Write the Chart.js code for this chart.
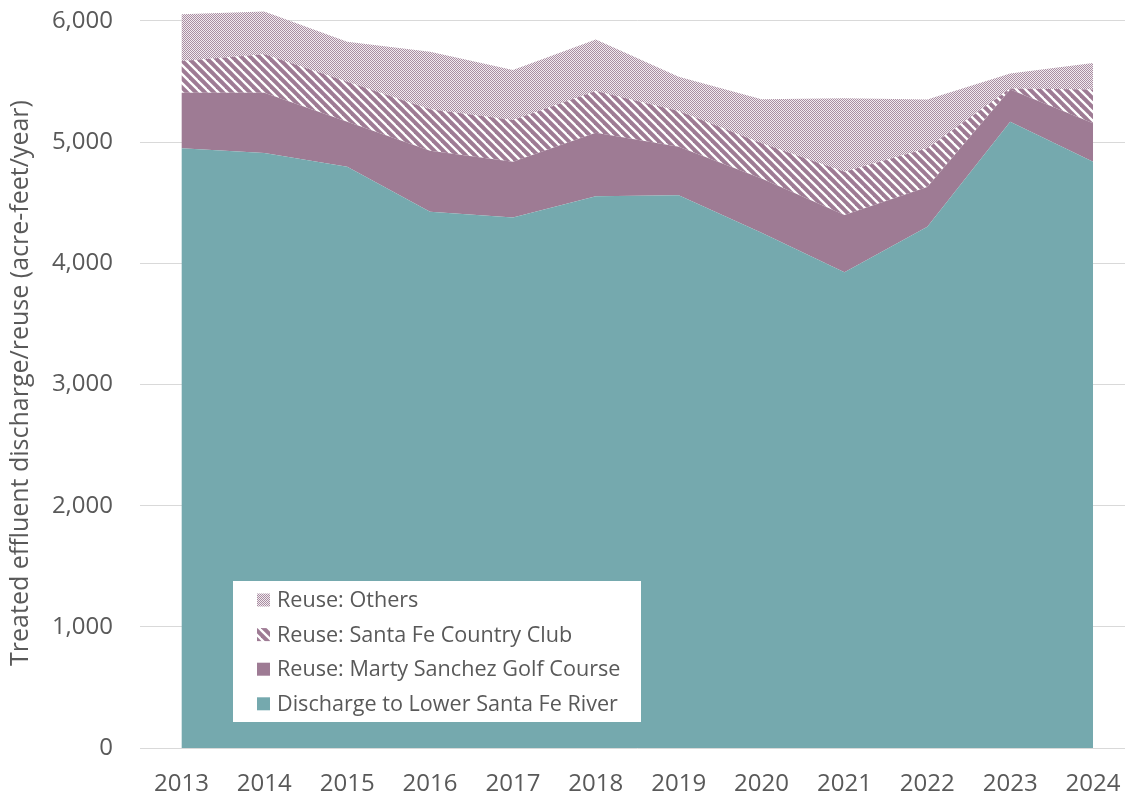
<!DOCTYPE html>
<html>
<head>
  <title>Treated Effluent Discharge and Reuse</title>
  <script src="https://cdn.jsdelivr.net/npm/chart.js"></script>
  <style>
    html, body {
      margin: 0;
      padding: 0;
      background: #fff;
      overflow: hidden;
    }
    .wrap {
      width: 1136px;
      height: 797px;
    }
  </style>
</head>
<body>
<div class="wrap">
  <canvas id="effluentChart" width="1136" height="797"></canvas>
</div>

<script>
  // values, acre-feet/year
  const years = ['2013', '2014', '2015', '2016', '2017', '2018', '2019', '2020', '2021', '2022', '2023', '2024'];
  const discharge = [4949, 4910, 4797, 4426, 4379, 4553, 4561, 4252, 3927, 4302, 5169, 4839];
  const martySanchez = [459, 498, 372, 502, 460, 525, 402, 449, 472, 328, 266, 316];
  const countryClub = [262, 317, 330, 344, 344, 344, 295, 289, 357, 320, 8, 280];
  const otherReuse = [386, 353, 330, 474, 412, 426, 282, 364, 606, 401, 124, 219];
  const seriesNames = [
    'Discharge to Lower Santa Fe River',
    'Reuse: Marty Sanchez Golf Course',
    'Reuse: Santa Fe Country Club',
    'Reuse: Others'
  ];
  const yTicks = [0, 1000, 2000, 3000, 4000, 5000, 6000];

  const TEAL = '#75a9ae';
  const MAUVE = '#9e7b94';
  const TEXT = '#595959';
  const FONT = "'Open Sans', sans-serif";

  // fine dotted fill for "Others"
  function dotPattern() {
    const c = document.createElement('canvas');
    c.width = 2; c.height = 2;
    const g = c.getContext('2d');
    g.fillStyle = '#f1eaef';
    g.fillRect(0, 0, 2, 2);
    g.fillStyle = '#a98ea2';
    g.fillRect(0, 0, 1, 1);
    g.fillRect(1, 1, 1, 1);
    return g.createPattern(c, 'repeat');
  }

  // white "\" stripes on mauve for the country club
  function stripePattern() {
    const s = 9;
    const c = document.createElement('canvas');
    c.width = s; c.height = s;
    const g = c.getContext('2d');
    g.fillStyle = MAUVE;
    g.fillRect(0, 0, s, s);
    g.strokeStyle = '#ffffff';
    g.lineWidth = 2.3;
    [-s, 0, s].forEach(o => {
      g.beginPath();
      g.moveTo(o - 1, -1);
      g.lineTo(o + s + 1, s + 1);
      g.stroke();
    });
    return g.createPattern(c, 'repeat');
  }

  const fills = [TEAL, MAUVE, stripePattern(), dotPattern()];
  const values = [discharge, martySanchez, countryClub, otherReuse];

  const datasets = values.map((v, i) => ({
    label: seriesNames[i],
    data: v,
    backgroundColor: fills[i],
    borderWidth: 0,
    pointRadius: 0,
    tension: 0,
    fill: i === 0 ? 'origin' : '-1'
  }));

  // legend box sitting inside the plot, like the original
  const boxLegend = {
    id: 'boxLegend',
    afterDraw(chart) {
      const ctx = chart.ctx;
      ctx.save();
      ctx.fillStyle = '#ffffff';
      ctx.fillRect(233, 581, 408, 141);
      ctx.font = '21.6px ' + FONT;
      ctx.textBaseline = 'middle';
      ctx.textAlign = 'left';
      const items = chart.data.datasets.slice().reverse();
      items.forEach((ds, i) => {
        const y = 600 + i * 34.6;
        ctx.fillStyle = ds.backgroundColor;
        ctx.fillRect(257, y - 6.5, 13, 13);
        ctx.fillStyle = TEXT;
        ctx.fillText(ds.label, 277, y + 1);
      });
      ctx.restore();
    }
  };

  const yTitle = {
    id: 'yTitle',
    afterDraw(chart) {
      const ctx = chart.ctx;
      ctx.save();
      ctx.translate(21, 383);
      ctx.rotate(-Math.PI / 2);
      ctx.font = '25px ' + FONT;
      ctx.fillStyle = TEXT;
      ctx.textAlign = 'center';
      ctx.textBaseline = 'middle';
      ctx.fillText('Treated effluent discharge/reuse (acre-feet/year)', 0, 0);
      ctx.restore();
    }
  };

  new Chart(document.getElementById('effluentChart').getContext('2d'), {
    type: 'line',
    data: { labels: years, datasets: datasets },
    options: {
      responsive: false,
      animation: false,
      layout: { padding: { top: 2.8, right: 1.5, left: 0, bottom: 0 } },
      plugins: {
        legend: { display: false },
        tooltip: { enabled: false }
      },
      scales: {
        x: {
          offset: true,
          grid: { display: false },
          border: { display: false },
          ticks: {
            color: TEXT,
            font: { family: FONT, size: 24 },
            padding: 14,
            maxRotation: 0
          },
          afterFit(scale) {
            scale.height = 49;
            scale.paddingLeft = 0;
            scale.paddingRight = 0;
          }
        },
        y: {
          stacked: true,
          min: 0,
          max: 6150,
          afterBuildTicks(scale) {
            scale.ticks = yTicks.map(v => ({ value: v }));
          },
          grid: { color: '#d9d9d9', lineWidth: 1, drawTicks: false },
          border: { display: false },
          ticks: {
            color: TEXT,
            font: { family: FONT, size: 24 },
            padding: 27,
            callback: v => v.toLocaleString('en-US')
          },
          afterFit(scale) {
            scale.width = 140;
            scale.paddingTop = 0;
            scale.paddingBottom = 0;
          }
        }
      }
    },
    plugins: [boxLegend, yTitle]
  });
</script>
</body>
</html>
